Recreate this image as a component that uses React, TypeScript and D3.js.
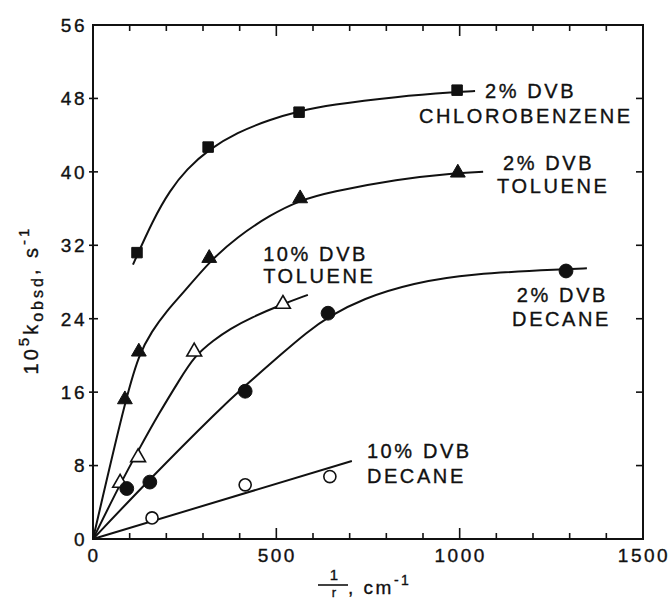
import React, { useRef, useEffect } from 'react';
import * as d3 from 'd3';

// x = 1/r (cm-1), y = 10^5 k_obsd (s-1)
const xTicks = [0, 500, 1000, 1500];
const yTicks = [0, 8, 16, 24, 32, 40, 48, 56];

// measured points
const chloro2Pts = [[120, 31.2], [314, 42.7], [562, 46.5], [993, 48.9]];
const tol2Pts = [[87, 15.2], [125, 20.4], [317, 30.6], [565, 37.1], [995, 39.9]];
const tol10Pts = [[74, 6.1], [123, 8.9], [276, 20.4], [518, 25.6]];
const dec2Pts = [[92, 5.5], [155, 6.2], [415, 16.1], [641, 24.6], [1290, 29.2]];
const dec10Pts = [[161, 2.3], [415, 5.9], [646, 6.8]];

// hand-drawn fit curves
const chloro2Fit = [[109, 29.9], [164, 34.8], [210, 38.0], [256, 40.3], [314, 42.4], [393, 44.3], [483, 45.7], [562, 46.6], [646, 47.3], [829, 48.2], [993, 48.7], [1042, 48.8]];
const tol2Fit = [[0, 0], [87, 15.0], [126, 20.2], [160, 22.6], [200, 24.8], [250, 27.0], [317, 30.2], [393, 32.9], [483, 35.3], [565, 36.9], [646, 37.8], [829, 39.2], [995, 39.9], [1064, 40.0]];
const tol10Fit = [[0, 0], [74, 6.0], [123, 9.6], [180, 13.7], [237, 17.4], [276, 19.9], [330, 21.7], [374, 22.9], [430, 24.1], [518, 25.6], [586, 26.6]];
const dec2Fit = [[0, 0], [149, 6.3], [346, 14.2], [415, 16.7], [518, 20.3], [583, 22.5], [641, 24.2], [736, 26.2], [873, 27.9], [1028, 28.9], [1290, 29.4], [1347, 29.5]];
const dec10Fit = [[0, 0], [706, 8.5]];

// curve labels (anchored in data units)
const curveLabels = [
    { text: '2% DVB', x: 1069, y: 48.0 },
    { text: 'CHLOROBENZENE', x: 889, y: 45.3 },
    { text: '2% DVB', x: 1118, y: 40.2 },
    { text: 'TOLUENE', x: 1102, y: 37.7 },
    { text: '10% DVB', x: 464, y: 30.3 },
    { text: 'TOLUENE', x: 464, y: 27.9 },
    { text: '2% DVB', x: 1156, y: 25.8 },
    { text: 'DECANE', x: 1143, y: 23.2 },
    { text: '10% DVB', x: 747, y: 8.8 },
    { text: 'DECANE', x: 747, y: 6.1 },
];

const W = 671, H = 600;
const FONT = '"Liberation Sans", Arial, sans-serif';
const INK = '#111';

const App = () => {
    const ref = useRef(null);

    useEffect(() => {
        const svg = d3.select(ref.current);
        svg.selectAll('*').remove();

        const x = d3.scaleLinear().domain([0, 1500]).range([93, 643]);
        const y = d3.scaleLinear().domain([0, 56]).range([539, 25]);

        // frame
        svg.append('rect')
            .attr('x', x(0)).attr('y', y(56))
            .attr('width', x(1500) - x(0)).attr('height', y(0) - y(56))
            .attr('fill', 'none').attr('stroke', INK).attr('stroke-width', 2);

        // ticks (inward)
        const minorX = d3.range(100, 1500, 100);
        const tk = svg.append('g').attr('stroke', INK).attr('stroke-width', 1.6);
        minorX.forEach(v => {
            const len = v % 500 === 0 ? 11 : 6;
            tk.append('line').attr('x1', x(v)).attr('x2', x(v)).attr('y1', y(0)).attr('y2', y(0) - len);
            tk.append('line').attr('x1', x(v)).attr('x2', x(v)).attr('y1', y(56)).attr('y2', y(56) + len);
        });
        yTicks.slice(1, -1).forEach(v => {
            tk.append('line').attr('x1', x(0) - 4).attr('x2', x(0) + 5).attr('y1', y(v)).attr('y2', y(v));
            tk.append('line').attr('x1', x(1500)).attr('x2', x(1500) - 7).attr('y1', y(v)).attr('y2', y(v));
        });

        const txt = sel => sel
            .attr('font-family', FONT).attr('fill', INK)
            .attr('stroke', INK).attr('stroke-width', 0.35);

        // tick labels
        svg.append('g')
            .selectAll('text').data(yTicks).join('text')
            .attr('x', 87).attr('y', d => y(d)).attr('dy', '0.36em')
            .attr('text-anchor', 'end')
            .attr('font-size', 19).attr('letter-spacing', 2.5)
            .call(txt)
            .text(d => d);
        svg.append('g')
            .selectAll('text').data(xTicks).join('text')
            .attr('x', d => x(d) + 1).attr('y', 562)
            .attr('text-anchor', 'middle')
            .attr('font-size', 19).attr('letter-spacing', 2.5)
            .call(txt)
            .text(d => d);

        // fit curves
        const line = d3.line().x(d => x(d[0])).y(d => y(d[1])).curve(d3.curveBasis);
        [chloro2Fit, tol2Fit, tol10Fit, dec2Fit, dec10Fit].forEach(f => {
            svg.append('path').attr('d', line(f))
                .attr('fill', 'none').attr('stroke', INK).attr('stroke-width', 2);
        });

        // markers
        const sym = (type, size) => d3.symbol().type(type).size(size)();
        const addMarks = (pts, type, size, filled) => {
            svg.append('g').selectAll('path').data(pts).join('path')
                .attr('transform', d => `translate(${x(d[0])},${y(d[1])})`)
                .attr('d', sym(type, size))
                .attr('fill', filled ? INK : '#fff')
                .attr('stroke', INK).attr('stroke-width', filled ? 1 : 1.6);
        };
        addMarks(chloro2Pts, d3.symbolSquare, 110, true);
        addMarks(tol2Pts, d3.symbolTriangle, 95, true);
        addMarks(tol10Pts, d3.symbolTriangle, 95, false);
        addMarks(dec2Pts, d3.symbolCircle, 150, true);
        addMarks(dec10Pts, d3.symbolCircle, 115, false);

        // curve labels
        svg.append('g')
            .selectAll('text').data(curveLabels).join('text')
            .attr('x', d => x(d.x)).attr('y', d => y(d.y))
            .attr('font-size', 20).attr('letter-spacing', 2.6)
            .call(txt)
            .text(d => d.text);

        // y axis title
        const yt = svg.append('text')
            .attr('transform', 'translate(38,300) rotate(-90)')
            .attr('text-anchor', 'middle')
            .attr('font-size', 20).attr('letter-spacing', 3)
            .call(txt);
        yt.append('tspan').text('10');
        yt.append('tspan').attr('dy', -9).attr('font-size', 15).text('5');
        yt.append('tspan').attr('dy', 9).text('k');
        yt.append('tspan').attr('dy', 5).attr('font-size', 16).text('obsd');
        yt.append('tspan').attr('dy', -5).text(', s');
        yt.append('tspan').attr('dy', -9).attr('font-size', 15).text('-1');

        // x axis title: 1/r, cm-1
        const xt = svg.append('g');
        xt.append('text').attr('x', 334).attr('y', 580).attr('text-anchor', 'middle')
            .attr('font-size', 15).call(txt).text('1');
        xt.append('line').attr('x1', 318).attr('x2', 348).attr('y1', 585).attr('y2', 585)
            .attr('stroke', INK).attr('stroke-width', 1.6);
        xt.append('text').attr('x', 334).attr('y', 597).attr('text-anchor', 'middle')
            .attr('font-size', 13).call(txt).text('r');
        const cm = xt.append('text').attr('x', 348).attr('y', 594)
            .attr('font-size', 19).attr('letter-spacing', 2.5).call(txt);
        cm.append('tspan').text(', cm');
        cm.append('tspan').attr('dy', -9).attr('font-size', 14).text('-1');
    }, []);

    return (
        <svg ref={ref} width={W} height={H}
            style={{ position: 'absolute', left: 0, top: 0, background: '#fff' }} />
    );
};

export default App;
